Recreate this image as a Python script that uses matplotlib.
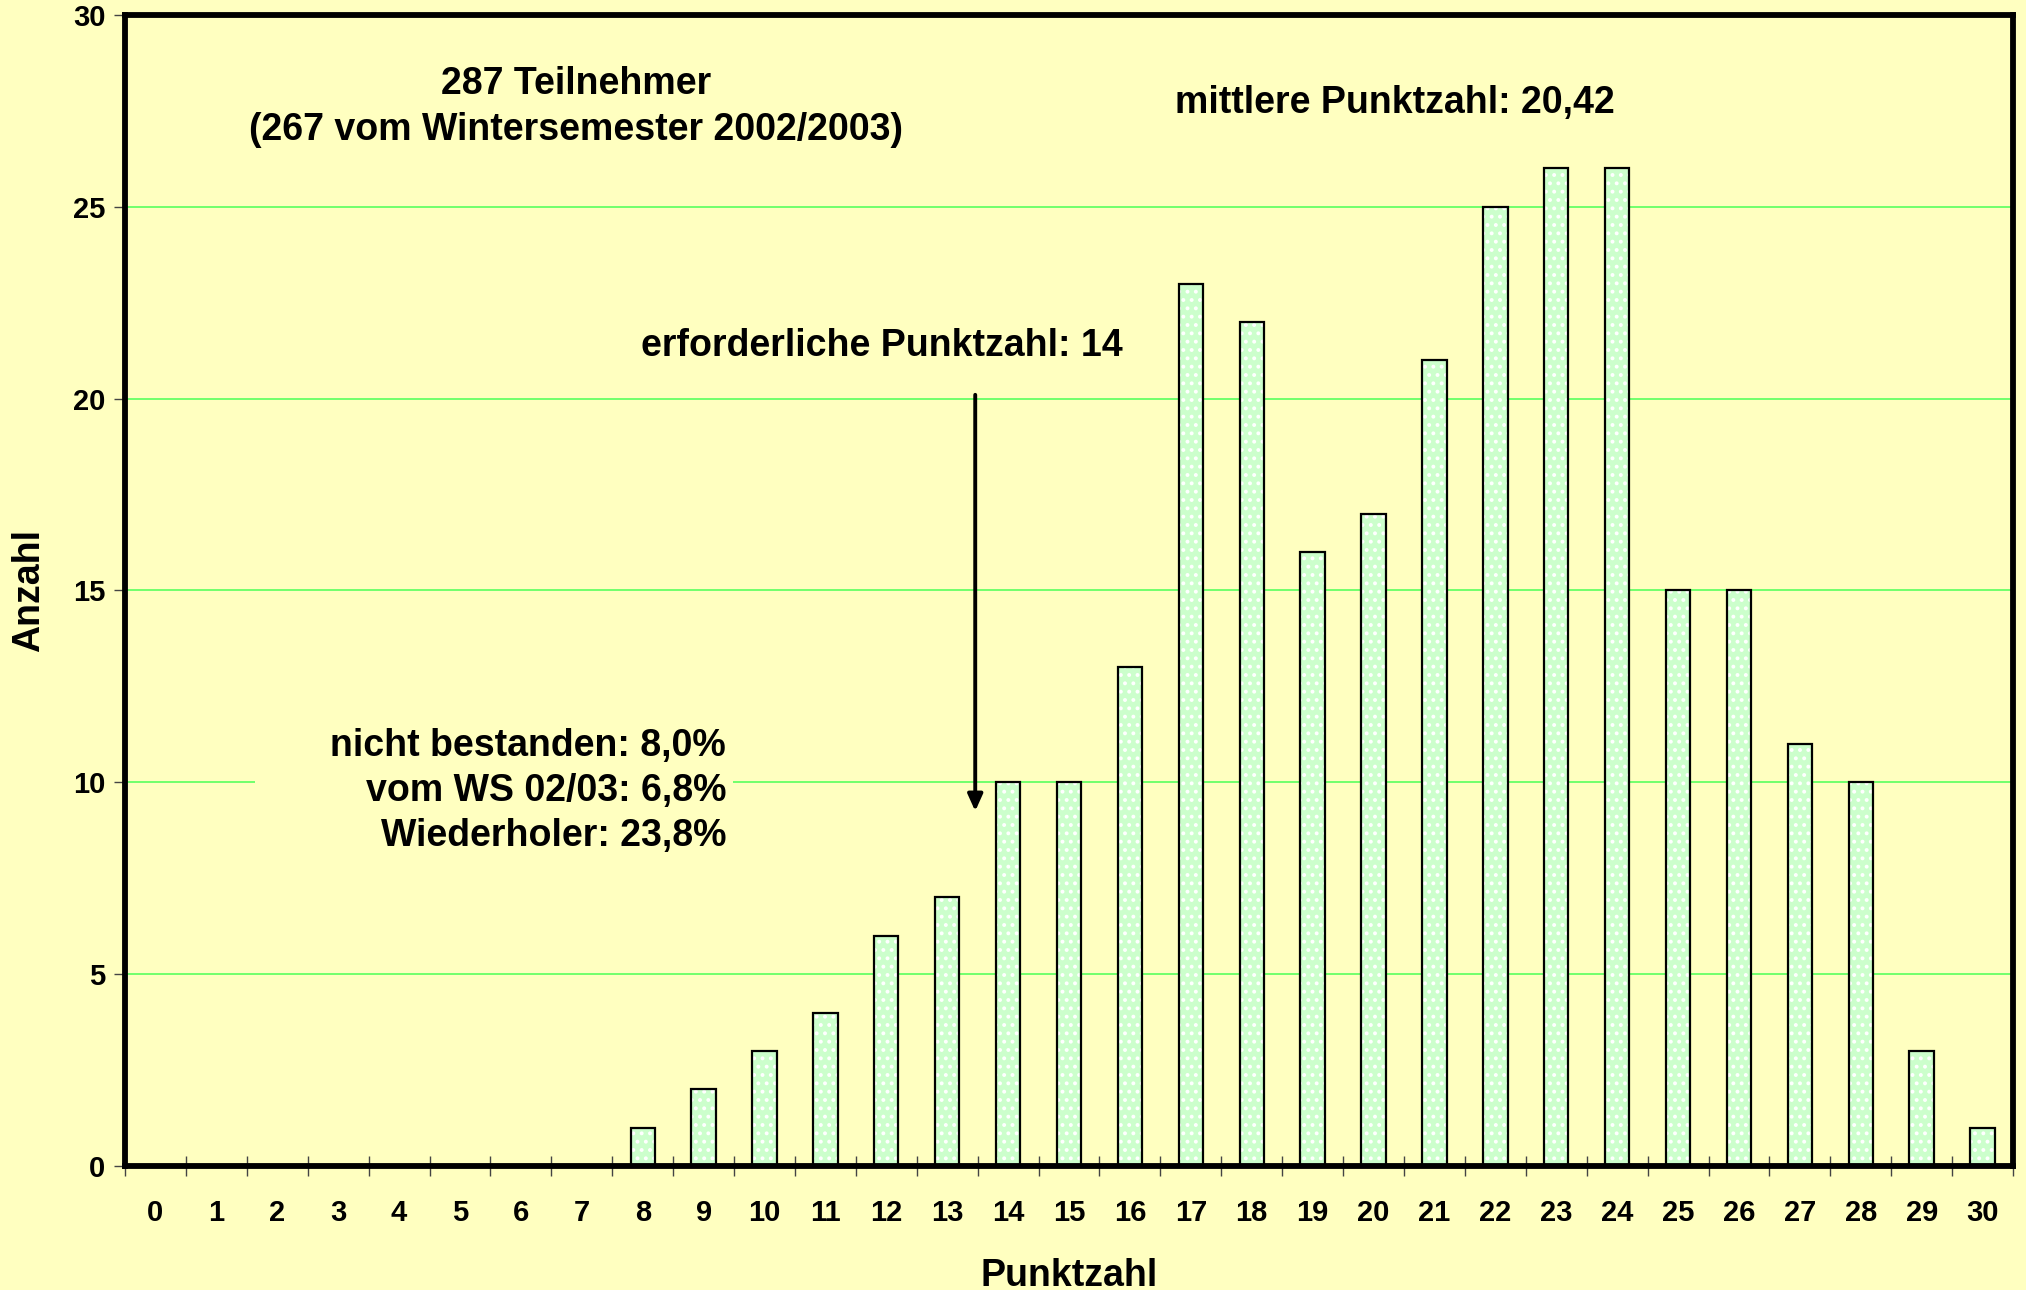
import numpy as np
import matplotlib
matplotlib.use("Agg")
import matplotlib.pyplot as plt
from matplotlib.patches import Rectangle

points = list(range(0, 31))
counts = [0, 0, 0, 0, 0, 0, 0, 0, 1, 2, 3, 4, 6, 7, 10, 10, 13, 23, 22, 16,
          17, 21, 25, 26, 26, 15, 15, 11, 10, 3, 1]
yticks = [0, 5, 10, 15, 20, 25, 30]

BG = "#FFFFC0"
BAR = "#CCFFCC"
GRID = "#66FF66"

plt.rcParams["font.family"] = ["Liberation Sans", "DejaVu Sans"]
plt.rcParams["font.weight"] = "bold"
plt.rcParams["hatch.linewidth"] = 1.6

fig = plt.figure(figsize=(20.26, 12.90), dpi=100, facecolor=BG)
ax = fig.add_axes([0.0617, 0.0961, 0.9319, 0.8923])
ax.set_facecolor(BG)

x = np.arange(len(points))
# base fill with dotted pattern
ax.bar(x, counts, width=0.4, color=BAR, edgecolor="white", linewidth=0,
       hatch="..", zorder=2)
# outline
ax.bar(x, counts, width=0.4, fill=False, edgecolor="black", linewidth=1.6, zorder=3)

ax.set_xlim(-0.5, 30.5)
ax.set_ylim(0, 30)

# grid lines
for y in yticks[1:-1]:
    ax.axhline(y, color=GRID, linewidth=1.3, zorder=1)

for s in ax.spines.values():
    s.set_linewidth(4.2)
    s.set_color("black")
    s.set_zorder(5)

ax.set_yticks(yticks)
ax.tick_params(axis="y", direction="out", length=8, width=1, color="#444444",
               labelsize=21, pad=6)
ax.set_xticks(np.arange(-0.5, 31, 1))
ax.set_xticklabels([])
ax.set_xticks(x, minor=True)
ax.set_xticklabels([str(p) for p in points], minor=True)
ax.tick_params(axis="x", which="major", direction="inout", length=15, width=1,
               color="#444444")
ax.tick_params(axis="x", which="minor", length=0, labelsize=21, pad=24)

ax.set_xlabel("Punktzahl", fontsize=27, fontweight="bold", labelpad=22)
ax.set_ylabel("Anzahl", fontsize=27, fontweight="bold", labelpad=19)

tkw = dict(fontsize=27, fontweight="bold", color="black", zorder=6)
ax.text(6.9, 28.2, "287 Teilnehmer", ha="center", va="center", **tkw)
ax.text(6.9, 27.0, "(267 vom Wintersemester 2002/2003)", ha="center", va="center", **tkw)
ax.text(20.35, 27.7, "mittlere Punktzahl: 20,42", ha="center", va="center", **tkw)
ax.text(11.93, 21.37, "erforderliche Punktzahl: 14", ha="center", va="center", **tkw)

# background box behind the statistics text
ax.add_patch(Rectangle((1.63, 7.6), 7.85, 4.2, facecolor=BG, edgecolor="none",
                       zorder=1.5))
ax.text(9.37, 9.77, "nicht bestanden: 8,0%\nvom WS 02/03: 6,8%\nWiederholer: 23,8%",
        ha="right", va="center", multialignment="right", linespacing=1.32,
        **tkw)

ax.annotate("", xy=(13.46, 9.25), xytext=(13.46, 20.1),
            arrowprops=dict(arrowstyle="-|>,head_length=1.0,head_width=0.45",
                            color="black", linewidth=2.8, shrinkA=0, shrinkB=0),
            zorder=6)

fig.savefig("out.png", dpi=100, facecolor=BG)
